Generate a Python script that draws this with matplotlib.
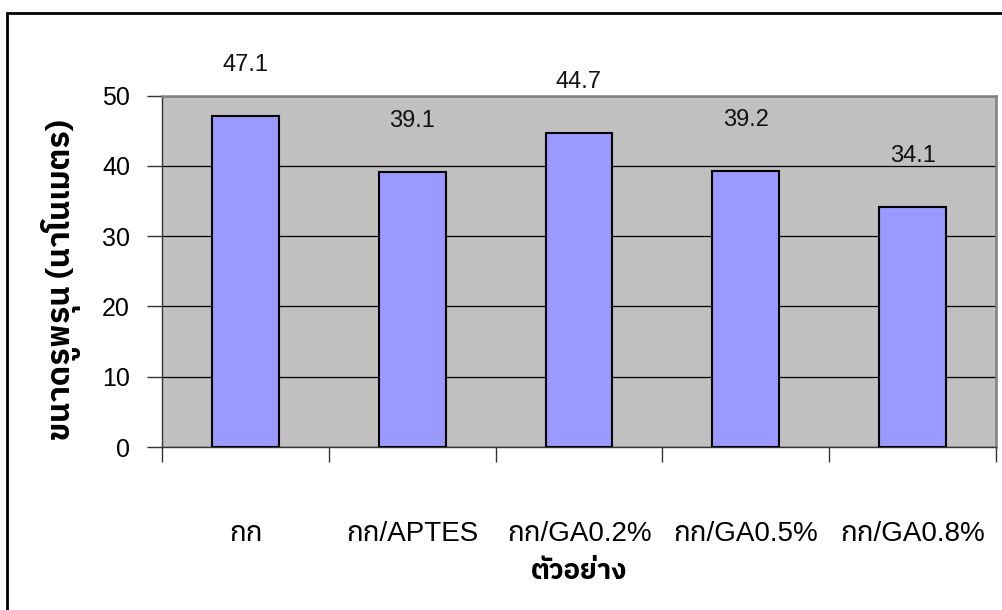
import matplotlib
matplotlib.use("Agg")
import matplotlib.pyplot as plt
from matplotlib.patches import Rectangle

plt.rcParams['font.family'] = ['Liberation Sans', 'Noto Sans Thai']

samples = ['กก', 'กก/APTES', 'กก/GA0.2%', 'กก/GA0.5%', 'กก/GA0.8%']
pore_size = [47.1, 39.1, 44.7, 39.2, 34.1]
yticks = [0, 10, 20, 30, 40, 50]

thai_bold = dict(family=['IBM Plex Sans Thai', 'Liberation Sans'], weight='bold')

fig = plt.figure(figsize=(10.03, 6.1), dpi=100)
ax = fig.add_axes([0.1615, 0.2672, 0.8315, 0.5762])
ax.set_facecolor('#C0C0C0')

x = range(len(samples))
ax.bar(x, pore_size, width=0.4, color='#9999FF', edgecolor='black', linewidth=1.5, zorder=3)

# value labels float well above each bar
for xi, v in zip(x, pore_size):
    ax.annotate(f'{v:.1f}', (xi, v), xytext=(0, 29), textcoords='offset points',
                ha='center', va='bottom', fontsize=17, color='#111111', zorder=4)

ax.set_xlim(-0.5, len(samples) - 0.5)
ax.set_ylim(0, 50)
ax.set_yticks(yticks)
ax.yaxis.grid(True, color='black', linewidth=0.9, zorder=1)
ax.set_axisbelow(True)

# ticks between categories, labels centred on them
ax.set_xticks([i - 0.5 for i in range(len(samples) + 1)])
ax.set_xticklabels([])
ax.set_xticks(list(x), minor=True)
ax.set_xticklabels(samples, minor=True, fontsize=20)
ax.tick_params(axis='x', which='major', direction='out', length=11, width=1, color='#333333')
ax.tick_params(axis='x', which='minor', length=0, pad=53)
ax.tick_params(axis='y', direction='out', length=11, width=1, color='#333333', labelsize=18, pad=12)

for side in ['top', 'right']:
    ax.spines[side].set_color('#808080')
    ax.spines[side].set_linewidth(1.8)
for side in ['left', 'bottom']:
    ax.spines[side].set_color('#333333')
    ax.spines[side].set_linewidth(1)

ax.set_xlabel('ตัวอย่าง', fontsize=20, **thai_bold)
ax.xaxis.set_label_coords(0.5, -0.315)
ax.xaxis.label.set_va('top')
ax.set_ylabel('ขนาดรูพรุน (นาโนเมตร)', fontsize=23, **thai_bold)
ax.yaxis.set_label_coords(-0.121, 0.475)
ax.yaxis.label.set_va('center')

# chart border
fig.add_artist(Rectangle((0.007, -0.1), 1.2, 1.0787, transform=fig.transFigure,
                         fill=False, edgecolor='black', linewidth=2))

fig.savefig('out.png')
